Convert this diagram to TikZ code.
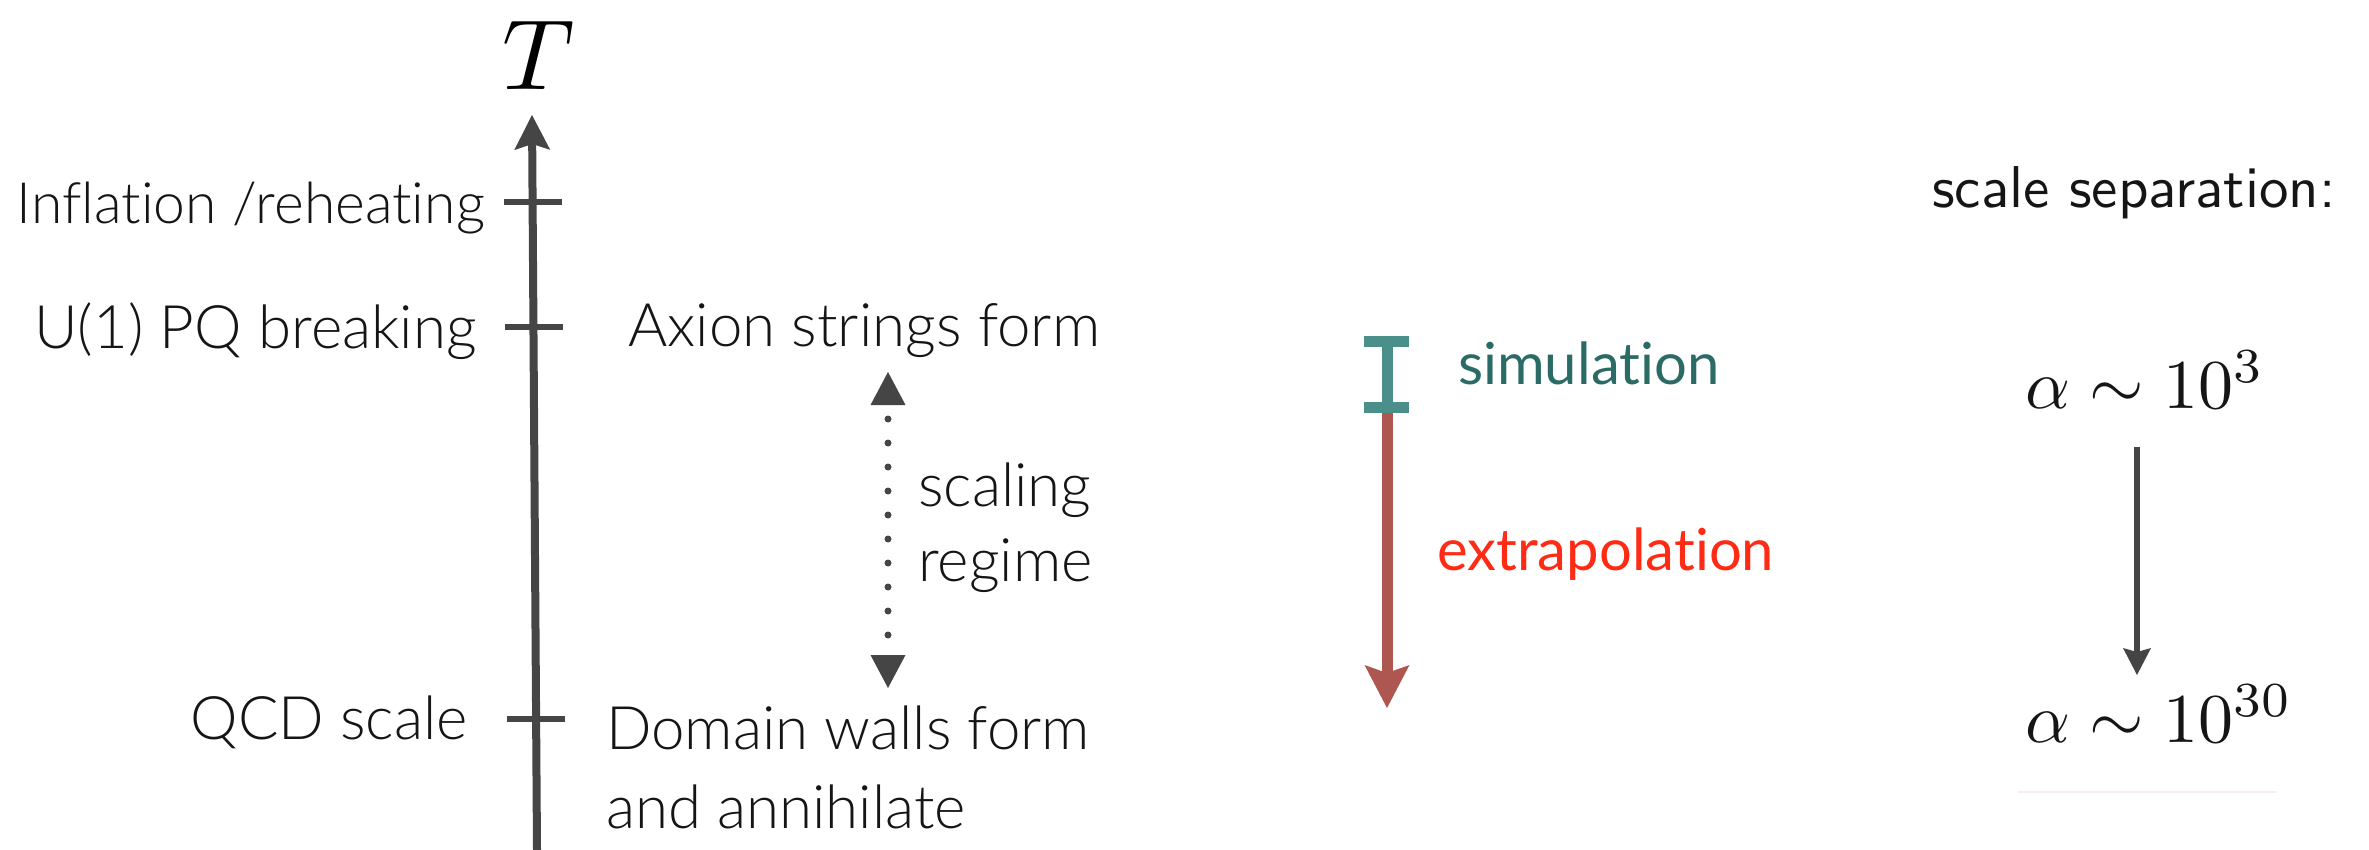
\documentclass[tikz,border=0pt]{standalone}
\usepackage{fontspec}
\usepackage{graphicx}
\newfontfamily\gill{Lato Light}[Ligatures=NoCommon]
\newfontfamily\gillreg{Lato}[Ligatures=NoCommon]
\usetikzlibrary{arrows.meta}
\definecolor{ink}{HTML}{151515}
\definecolor{axisgray}{HTML}{454545}
\definecolor{tealbar}{HTML}{4A8F89}
\definecolor{tealtext}{HTML}{2B6B66}
\definecolor{redarrow}{HTML}{AE5750}
\definecolor{redtext}{HTML}{FF2B14}
\definecolor{faint}{RGB}{250,240,238}
\tikzset{
  lab/.style={font=\gill\fontsize{60}{72}\selectfont, text=ink, inner sep=0pt},
  collab/.style={font=\gillreg\fontsize{58}{70}\selectfont, inner sep=0pt},
  mathlab/.style={text=ink, inner sep=0pt},
  tick/.style={draw=axisgray, line width=6pt},
  axisline/.style={draw=axisgray, line width=8pt, -{Stealth[length=35pt,width=36pt,inset=6pt,line width=0pt]}},
  dotarr/.style={draw=axisgray, line width=7pt, line cap=round, dash pattern=on 0pt off 24pt, dash phase=10pt,
    {Triangle[length=33pt,width=35pt,line width=0pt]}-{Triangle[length=33pt,width=35pt,line width=0pt]}},
  simbar/.style={draw=tealbar, line width=11pt},
  extarr/.style={draw=redarrow, line width=11pt, -{Stealth[length=43pt,width=45pt,inset=8pt,line width=0pt]}},
  sepArr/.style={draw=axisgray, line width=6pt, -{Stealth[length=27pt,width=28pt,inset=4pt,line width=0pt]}},
}
\begin{document}
\begin{tikzpicture}[x=1pt,y=-1pt]
\useasboundingbox (0,0) rectangle (2369,850);

% temperature axis
\coordinate (axbot) at (537,850);
\coordinate (axtop) at (532,115);
\draw[axisline] (axbot) -- (axtop);
\node[text=black, inner sep=0pt, anchor=base] (T) at (539,90) {\scalebox{10}{$T$}};

% ticks
\coordinate (t1l) at (504,202); \coordinate (t1r) at (562,202);
\coordinate (t2l) at (505,327); \coordinate (t2r) at (563,327);
\coordinate (t3l) at (507,719); \coordinate (t3r) at (565,719);
\draw[tick] (t1l) -- (t1r);
\draw[tick] (t2l) -- (t2r);
\draw[tick] (t3l) -- (t3r);

% left labels
\node[lab, font=\gill\fontsize{57}{70}\selectfont, anchor=base east] (infl) at (485,224) {Inflation /reheating};
\node[lab, anchor=base east] (pq) at (477,348) {U(1) PQ breaking};
\node[lab, anchor=base east] (qcd) at (468,739) {QCD scale};

% right labels
\node[lab, anchor=base west] (axion) at (628,346) {Axion strings form};
\node[lab, anchor=base west] (dw1) at (606,749) {Domain walls form};
\node[lab, anchor=base west] (dw2) at (606,828) {and annihilate};
\node[lab, anchor=base west] (sc1) at (918,506) {scaling};
\node[lab, anchor=base west] (sc2) at (918,581) {regime};

% scaling regime arrow
\coordinate (dtop) at (888,372);
\coordinate (dbot) at (888,688);
\draw[dotarr] (dtop) -- (dbot);

% simulation bar
\coordinate (simtop) at (1387,336);
\coordinate (simbot) at (1387,413);
\draw[simbar] (1387,341.5) -- (1387,407.5);
\draw[simbar] (1364,341.5) -- (1409,341.5);
\draw[simbar] (1364,407.5) -- (1409,407.5);
\node[collab, text=tealtext, anchor=base west] (sim) at (1458,384) {simulation};

% extrapolation arrow
\coordinate (extend) at (1387,708);
\draw[extarr] (simbot) -- (extend);
\node[collab, text=redtext, anchor=base west] (extra) at (1437,570) {extrapolation};

% scale separation
\node[text=ink, inner sep=0pt, anchor=base west] (sep) at (1932,208) {\scalebox{5.9}{\sffamily scale separation:}};
\node[mathlab, anchor=base west] (a3) at (2025,408) {\scalebox{7}{$\alpha\sim10^3$}};
\node[mathlab, anchor=base west] (a30) at (2025,742) {\scalebox{7}{$\alpha\sim10^{30}$}};
\coordinate (sa) at (2137,447);
\coordinate (sb) at (2137,675);
\draw[sepArr] (sa) -- (sb);
\coordinate (fl) at (2018,792);
\coordinate (fr) at (2277,792);
\draw[faint, line width=2pt] (fl) -- (fr);
\end{tikzpicture}
\end{document}
